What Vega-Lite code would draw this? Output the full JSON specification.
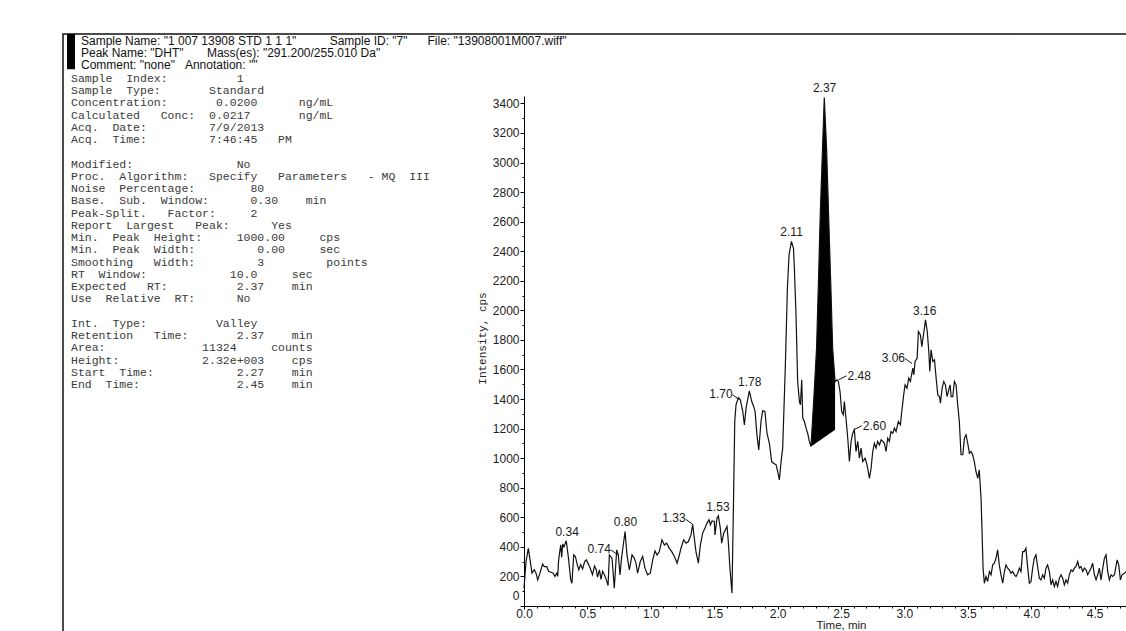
{
  "$schema": "https://vega.github.io/schema/vega-lite/v6.json",
  "background": "white",
  "padding": {"left": 62, "top": 33, "right": 0, "bottom": 0},
  "config": {"view": {"stroke": null}, "axis": {"grid": false}},
  "datasets": {
    "header": [
      {"row": -3, "text": "Sample Name: \"1 007 13908 STD 1 1 1\"\u00a0\u00a0\u00a0\u00a0\u00a0\u00a0\u00a0\u00a0\u00a0\u00a0Sample ID: \"7\"\u00a0\u00a0\u00a0\u00a0\u00a0\u00a0File: \"13908001M007.wiff\""},
      {"row": -2, "text": "Peak Name: \"DHT\"\u00a0\u00a0\u00a0\u00a0\u00a0\u00a0\u00a0Mass(es): \"291.200/255.010 Da\""},
      {"row": -1, "text": "Comment: \"none\"\u00a0\u00a0\u00a0Annotation: \"\""}
    ],
    "params": [
      {"row": 0, "text": "Sample\u00a0\u00a0Index:\u00a0\u00a0\u00a0\u00a0\u00a0\u00a0\u00a0\u00a0\u00a0\u00a01"},
      {"row": 1, "text": "Sample\u00a0\u00a0Type:\u00a0\u00a0\u00a0\u00a0\u00a0\u00a0\u00a0Standard"},
      {"row": 2, "text": "Concentration:\u00a0\u00a0\u00a0\u00a0\u00a0\u00a0\u00a00.0200\u00a0\u00a0\u00a0\u00a0\u00a0\u00a0ng/mL"},
      {"row": 3, "text": "Calculated\u00a0\u00a0\u00a0Conc:\u00a0\u00a00.0217\u00a0\u00a0\u00a0\u00a0\u00a0\u00a0\u00a0ng/mL"},
      {"row": 4, "text": "Acq.\u00a0\u00a0Date:\u00a0\u00a0\u00a0\u00a0\u00a0\u00a0\u00a0\u00a0\u00a07/9/2013"},
      {"row": 5, "text": "Acq.\u00a0\u00a0Time:\u00a0\u00a0\u00a0\u00a0\u00a0\u00a0\u00a0\u00a0\u00a07:46:45\u00a0\u00a0\u00a0PM"},
      {"row": 7, "text": "Modified:\u00a0\u00a0\u00a0\u00a0\u00a0\u00a0\u00a0\u00a0\u00a0\u00a0\u00a0\u00a0\u00a0\u00a0\u00a0No"},
      {"row": 8, "text": "Proc.\u00a0\u00a0Algorithm:\u00a0\u00a0\u00a0Specify\u00a0\u00a0\u00a0Parameters\u00a0\u00a0\u00a0-\u00a0MQ\u00a0\u00a0III"},
      {"row": 9, "text": "Noise\u00a0\u00a0Percentage:\u00a0\u00a0\u00a0\u00a0\u00a0\u00a0\u00a0\u00a080"},
      {"row": 10, "text": "Base.\u00a0\u00a0Sub.\u00a0\u00a0Window:\u00a0\u00a0\u00a0\u00a0\u00a0\u00a00.30\u00a0\u00a0\u00a0\u00a0min"},
      {"row": 11, "text": "Peak-Split.\u00a0\u00a0\u00a0Factor:\u00a0\u00a0\u00a0\u00a0\u00a02"},
      {"row": 12, "text": "Report\u00a0\u00a0Largest\u00a0\u00a0\u00a0Peak:\u00a0\u00a0\u00a0\u00a0\u00a0\u00a0Yes"},
      {"row": 13, "text": "Min.\u00a0\u00a0Peak\u00a0\u00a0Height:\u00a0\u00a0\u00a0\u00a0\u00a01000.00\u00a0\u00a0\u00a0\u00a0\u00a0cps"},
      {"row": 14, "text": "Min.\u00a0\u00a0Peak\u00a0\u00a0Width:\u00a0\u00a0\u00a0\u00a0\u00a0\u00a0\u00a0\u00a0\u00a00.00\u00a0\u00a0\u00a0\u00a0\u00a0sec"},
      {"row": 15, "text": "Smoothing\u00a0\u00a0\u00a0Width:\u00a0\u00a0\u00a0\u00a0\u00a0\u00a0\u00a0\u00a0\u00a03\u00a0\u00a0\u00a0\u00a0\u00a0\u00a0\u00a0\u00a0\u00a0points"},
      {"row": 16, "text": "RT\u00a0\u00a0Window:\u00a0\u00a0\u00a0\u00a0\u00a0\u00a0\u00a0\u00a0\u00a0\u00a0\u00a0\u00a010.0\u00a0\u00a0\u00a0\u00a0\u00a0sec"},
      {"row": 17, "text": "Expected\u00a0\u00a0\u00a0RT:\u00a0\u00a0\u00a0\u00a0\u00a0\u00a0\u00a0\u00a0\u00a0\u00a02.37\u00a0\u00a0\u00a0\u00a0min"},
      {"row": 18, "text": "Use\u00a0\u00a0Relative\u00a0\u00a0RT:\u00a0\u00a0\u00a0\u00a0\u00a0\u00a0No"},
      {"row": 20, "text": "Int.\u00a0\u00a0Type:\u00a0\u00a0\u00a0\u00a0\u00a0\u00a0\u00a0\u00a0\u00a0\u00a0Valley"},
      {"row": 21, "text": "Retention\u00a0\u00a0\u00a0Time:\u00a0\u00a0\u00a0\u00a0\u00a0\u00a0\u00a02.37\u00a0\u00a0\u00a0\u00a0min"},
      {"row": 22, "text": "Area:\u00a0\u00a0\u00a0\u00a0\u00a0\u00a0\u00a0\u00a0\u00a0\u00a0\u00a0\u00a0\u00a0\u00a011324\u00a0\u00a0\u00a0\u00a0\u00a0counts"},
      {"row": 23, "text": "Height:\u00a0\u00a0\u00a0\u00a0\u00a0\u00a0\u00a0\u00a0\u00a0\u00a0\u00a0\u00a02.32e+003\u00a0\u00a0\u00a0\u00a0cps"},
      {"row": 24, "text": "Start\u00a0\u00a0Time:\u00a0\u00a0\u00a0\u00a0\u00a0\u00a0\u00a0\u00a0\u00a0\u00a0\u00a0\u00a02.27\u00a0\u00a0\u00a0\u00a0min"},
      {"row": 25, "text": "End\u00a0\u00a0Time:\u00a0\u00a0\u00a0\u00a0\u00a0\u00a0\u00a0\u00a0\u00a0\u00a0\u00a0\u00a0\u00a0\u00a02.45\u00a0\u00a0\u00a0\u00a0min"}
    ],
    "trace": [
      {"t":0,"i":120},{"t":0.016,"i":300},{"t":0.034,"i":390},{"t":0.05,"i":300},{"t":0.063,"i":222},{"t":0.081,"i":245},{"t":0.095,"i":222},{"t":0.108,"i":177},{"t":0.126,"i":222},{"t":0.147,"i":283},{"t":0.16,"i":267},{"t":0.179,"i":267},{"t":0.195,"i":233},{"t":0.213,"i":228},{"t":0.231,"i":222},{"t":0.244,"i":200},{"t":0.258,"i":222},{"t":0.266,"i":200},{"t":0.272,"i":300},{"t":0.28,"i":357},{"t":0.29,"i":413},{"t":0.297,"i":330},{"t":0.305,"i":420},{"t":0.315,"i":400},{"t":0.333,"i":441},{"t":0.35,"i":330},{"t":0.368,"i":180},{"t":0.378,"i":154},{"t":0.392,"i":346},{"t":0.405,"i":335},{"t":0.42,"i":280},{"t":0.432,"i":245},{"t":0.447,"i":280},{"t":0.462,"i":250},{"t":0.478,"i":300},{"t":0.492,"i":312},{"t":0.507,"i":285},{"t":0.522,"i":255},{"t":0.54,"i":212},{"t":0.556,"i":270},{"t":0.57,"i":245},{"t":0.58,"i":195},{"t":0.595,"i":245},{"t":0.607,"i":180},{"t":0.62,"i":235},{"t":0.635,"i":210},{"t":0.65,"i":175},{"t":0.663,"i":139},{"t":0.673,"i":346},{"t":0.694,"i":323},{"t":0.712,"i":121},{"t":0.731,"i":380},{"t":0.744,"i":346},{"t":0.757,"i":210},{"t":0.77,"i":330},{"t":0.797,"i":504},{"t":0.812,"i":346},{"t":0.831,"i":245},{"t":0.852,"i":346},{"t":0.87,"i":323},{"t":0.883,"i":290},{"t":0.896,"i":222},{"t":0.917,"i":301},{"t":0.936,"i":335},{"t":0.954,"i":256},{"t":0.975,"i":211},{"t":0.996,"i":222},{"t":1.015,"i":312},{"t":1.033,"i":373},{"t":1.049,"i":345},{"t":1.067,"i":368},{"t":1.088,"i":448},{"t":1.107,"i":413},{"t":1.125,"i":425},{"t":1.146,"i":390},{"t":1.165,"i":368},{"t":1.186,"i":335},{"t":1.207,"i":290},{"t":1.225,"i":345},{"t":1.238,"i":391},{"t":1.259,"i":448},{"t":1.278,"i":425},{"t":1.296,"i":436},{"t":1.317,"i":481},{"t":1.33,"i":553},{"t":1.343,"i":458},{"t":1.356,"i":368},{"t":1.375,"i":290},{"t":1.391,"i":413},{"t":1.409,"i":493},{"t":1.427,"i":527},{"t":1.443,"i":561},{"t":1.459,"i":583},{"t":1.47,"i":549},{"t":1.483,"i":576},{"t":1.501,"i":572},{"t":1.506,"i":481},{"t":1.522,"i":594},{"t":1.533,"i":610},{"t":1.548,"i":526},{"t":1.559,"i":425},{"t":1.575,"i":493},{"t":1.588,"i":515},{"t":1.601,"i":538},{"t":1.611,"i":436},{"t":1.624,"i":255},{"t":1.64,"i":87},{"t":1.652,"i":700},{"t":1.662,"i":1250},{"t":1.672,"i":1361},{"t":1.69,"i":1410},{"t":1.706,"i":1395},{"t":1.725,"i":1316},{"t":1.738,"i":1225},{"t":1.751,"i":1338},{"t":1.777,"i":1456},{"t":1.796,"i":1383},{"t":1.811,"i":1350},{"t":1.822,"i":1316},{"t":1.837,"i":1158},{"t":1.851,"i":1056},{"t":1.869,"i":1248},{"t":1.882,"i":1320},{"t":1.9,"i":1316},{"t":1.916,"i":1169},{"t":1.935,"i":1101},{"t":1.953,"i":977},{"t":1.969,"i":966},{"t":1.988,"i":955},{"t":2.0,"i":910},{"t":2.014,"i":853},{"t":2.027,"i":977},{"t":2.04,"i":1068},{"t":2.061,"i":1631},{"t":2.077,"i":2150},{"t":2.09,"i":2375},{"t":2.109,"i":2466},{"t":2.125,"i":2420},{"t":2.132,"i":2285},{"t":2.145,"i":1970},{"t":2.158,"i":1518},{"t":2.172,"i":1383},{"t":2.18,"i":1361},{"t":2.19,"i":1530},{"t":2.198,"i":1271},{"t":2.211,"i":1248},{"t":2.224,"i":1203},{"t":2.237,"i":1169},{"t":2.25,"i":1113},
      {"t":2.263,"i":1079,"base":1079},{"t":2.284,"i":1383,"base":1091},{"t":2.307,"i":1744,"base":1105},{"t":2.322,"i":2195,"base":1114},{"t":2.336,"i":2646,"base":1122},{"t":2.354,"i":3097,"base":1133},{"t":2.368,"i":3440,"base":1141},{"t":2.386,"i":3097,"base":1152},{"t":2.402,"i":2646,"base":1162},{"t":2.42,"i":2150,"base":1172},{"t":2.434,"i":1744,"base":1181},{"t":2.453,"i":1518,"base":1192},
      {"t":2.468,"i":1530},{"t":2.479,"i":1519},{"t":2.492,"i":1451},{"t":2.505,"i":1316},{"t":2.518,"i":1293},{"t":2.526,"i":1383},{"t":2.539,"i":1271},{"t":2.553,"i":1135},{"t":2.566,"i":977},{"t":2.579,"i":1113},{"t":2.592,"i":1169},{"t":2.605,"i":1192},{"t":2.618,"i":1045},{"t":2.632,"i":1113},{"t":2.645,"i":1000},{"t":2.658,"i":1068},{"t":2.671,"i":977},{"t":2.69,"i":1000},{"t":2.705,"i":955},{"t":2.724,"i":864},{"t":2.737,"i":932},{"t":2.75,"i":1045},{"t":2.763,"i":1101},{"t":2.776,"i":1068},{"t":2.789,"i":1113},{"t":2.803,"i":1090},{"t":2.816,"i":1124},{"t":2.83,"i":1113},{"t":2.842,"i":1101},{"t":2.855,"i":1045},{"t":2.868,"i":1135},{"t":2.881,"i":1113},{"t":2.894,"i":1180},{"t":2.908,"i":1169},{"t":2.921,"i":1203},{"t":2.934,"i":1180},{"t":2.952,"i":1248},{"t":2.968,"i":1226},{"t":2.979,"i":1316},{"t":2.994,"i":1428},{"t":3.005,"i":1496},{"t":3.02,"i":1473},{"t":3.034,"i":1541},{"t":3.047,"i":1519},{"t":3.066,"i":1609},{"t":3.074,"i":1564},{"t":3.084,"i":1654},{"t":3.1,"i":1676},{"t":3.11,"i":1857},{"t":3.126,"i":1834},{"t":3.137,"i":1755},{"t":3.152,"i":1845},{"t":3.166,"i":1936},{"t":3.18,"i":1857},{"t":3.192,"i":1722},{"t":3.2,"i":1586},{"t":3.21,"i":1733},{"t":3.224,"i":1654},{"t":3.237,"i":1665},{"t":3.25,"i":1541},{"t":3.263,"i":1428},{"t":3.276,"i":1417},{"t":3.284,"i":1372},{"t":3.297,"i":1473},{"t":3.31,"i":1519},{"t":3.323,"i":1496},{"t":3.336,"i":1417},{"t":3.349,"i":1462},{"t":3.36,"i":1496},{"t":3.368,"i":1417},{"t":3.381,"i":1417},{"t":3.394,"i":1519},{"t":3.407,"i":1496},{"t":3.42,"i":1361},{"t":3.433,"i":1248},{"t":3.446,"i":1023},{"t":3.46,"i":1023},{"t":3.473,"i":1135},{"t":3.486,"i":1158},{"t":3.499,"i":1101},{"t":3.512,"i":1034},{"t":3.525,"i":1045},{"t":3.538,"i":1023},{"t":3.551,"i":977},{"t":3.564,"i":910},{"t":3.578,"i":864},{"t":3.59,"i":921},{"t":3.604,"i":729},{"t":3.612,"i":503},{"t":3.62,"i":256},{"t":3.63,"i":154},{"t":3.643,"i":200},{"t":3.656,"i":166},{"t":3.67,"i":233},{"t":3.683,"i":211},{"t":3.696,"i":278},{"t":3.709,"i":289},{"t":3.722,"i":323},{"t":3.735,"i":380},{"t":3.748,"i":278},{"t":3.761,"i":211},{"t":3.775,"i":154},{"t":3.788,"i":233},{"t":3.801,"i":278},{"t":3.814,"i":256},{"t":3.827,"i":244},{"t":3.84,"i":222},{"t":3.853,"i":233},{"t":3.867,"i":211},{"t":3.88,"i":200},{"t":3.893,"i":222},{"t":3.906,"i":256},{"t":3.919,"i":233},{"t":3.932,"i":368},{"t":3.945,"i":368},{"t":3.958,"i":391},{"t":3.972,"i":256},{"t":3.985,"i":154},{"t":3.998,"i":166},{"t":4.011,"i":256},{"t":4.024,"i":323},{"t":4.037,"i":346},{"t":4.05,"i":267},{"t":4.064,"i":188},{"t":4.077,"i":177},{"t":4.09,"i":211},{"t":4.103,"i":188},{"t":4.116,"i":256},{"t":4.129,"i":278},{"t":4.143,"i":233},{"t":4.156,"i":143},{"t":4.169,"i":177},{"t":4.182,"i":132},{"t":4.195,"i":166},{"t":4.208,"i":132},{"t":4.222,"i":188},{"t":4.235,"i":211},{"t":4.248,"i":188},{"t":4.261,"i":143},{"t":4.274,"i":177},{"t":4.287,"i":154},{"t":4.3,"i":211},{"t":4.314,"i":244},{"t":4.327,"i":233},{"t":4.34,"i":256},{"t":4.353,"i":267},{"t":4.366,"i":301},{"t":4.379,"i":256},{"t":4.392,"i":267},{"t":4.406,"i":233},{"t":4.419,"i":256},{"t":4.432,"i":244},{"t":4.445,"i":211},{"t":4.458,"i":233},{"t":4.471,"i":256},{"t":4.484,"i":290},{"t":4.498,"i":211},{"t":4.511,"i":177},{"t":4.524,"i":211},{"t":4.537,"i":256},{"t":4.55,"i":177},{"t":4.564,"i":256},{"t":4.577,"i":323},{"t":4.59,"i":346},{"t":4.603,"i":233},{"t":4.616,"i":177},{"t":4.629,"i":211},{"t":4.642,"i":200},{"t":4.656,"i":211},{"t":4.677,"i":312},{"t":4.69,"i":278},{"t":4.703,"i":177},{"t":4.716,"i":211},{"t":4.735,"i":222},{"t":4.748,"i":233}
    ],
    "labelsAbove": [
      {"rt": 0.34, "height": 441}, {"rt": 0.80, "height": 504}, {"rt": 1.53, "height": 610},
      {"rt": 1.78, "height": 1456}, {"rt": 2.11, "height": 2466}, {"rt": 2.37, "height": 3440}, {"rt": 3.16, "height": 1936}
    ],
    "labelsLeft": [
      {"rt": 0.74, "height": 346}, {"rt": 1.33, "height": 553}, {"rt": 1.70, "height": 1395}, {"rt": 3.06, "height": 1640}
    ],
    "labelsRight": [
      {"rt": 2.48, "height": 1530}, {"rt": 2.60, "height": 1192}
    ]
  },
  "hconcat": [
    {
      "width": 461,
      "height": 597,
      "view": {"stroke": "#111", "strokeWidth": 1.5, "strokeDash": [461, 1058, 597]},
      "layer": [
        {
          "data": {"values": [{"part": "header"}]},
          "mark": {"type": "rect", "color": "#000"},
          "encoding": {
            "x": {"value": 4},
            "x2": {"value": 12},
            "y": {"datum": -3.676, "type": "quantitative", "scale": {"domain": [-3.676, 45.098], "reverse": true, "nice": false, "zero": false}, "axis": null},
            "y2": {"datum": -0.8}
          }
        },
        {
          "data": {"name": "header"},
          "mark": {"type": "text", "align": "left", "baseline": "middle", "font": "Liberation Sans", "fontSize": 12, "color": "#111", "dy": -1.5},
          "encoding": {
            "x": {"value": 18},
            "y": {"field": "row", "type": "quantitative", "scale": {"domain": [-3.676, 45.098], "reverse": true, "nice": false, "zero": false}, "axis": null},
            "text": {"field": "text"}
          }
        },
        {
          "data": {"name": "params"},
          "mark": {"type": "text", "align": "left", "baseline": "middle", "font": "Liberation Mono", "fontSize": 11.5, "color": "#3a3a3a"},
          "encoding": {
            "x": {"value": 8},
            "y": {"field": "row", "type": "quantitative", "scale": {"domain": [-3.676, 45.098], "reverse": true, "nice": false, "zero": false}, "axis": null},
            "text": {"field": "text"}
          }
        }
      ]
    },
    {
      "spacing": 0,
      "bounds": "flush",
      "vconcat": [
        {
          "width": 603,
          "height": 62,
          "view": {"stroke": "#111", "strokeWidth": 1.5, "strokeDash": [603, 727]},
          "data": {"values": []},
          "mark": "point"
        },
        {
          "width": 603,
          "height": 510,
          "data": {"name": "trace"},
          "layer": [
            {
              "transform": [{"filter": "isValid(datum.base)"}],
              "mark": {"type": "area", "color": "#000", "opacity": 1},
              "encoding": {
                "x": {"field": "t", "type": "quantitative", "scale": {"domain": [0, 4.755], "nice": false, "zero": false},
                      "axis": {"orient": "bottom", "values": [0.1,0.2,0.3,0.4,0.6,0.7,0.8,0.9,1.1,1.2,1.3,1.4,1.6,1.7,1.8,1.9,2.1,2.2,2.3,2.4,2.6,2.7,2.8,2.9,3.1,3.2,3.3,3.4,3.6,3.7,3.8,3.9,4.1,4.2,4.3,4.4,4.6,4.7], "labels": false, "domain": false, "tickSize": 2, "tickColor": "#000", "title": null}},
                "y": {"field": "i", "type": "quantitative", "scale": {"domain": [0, 3450], "nice": false},
                      "axis": {"orient": "left", "values": [100,300,500,700,900,1100,1300,1500,1700,1900,2100,2300,2500,2700,2900,3100,3300], "labels": false, "domain": false, "tickSize": 2, "tickColor": "#000", "title": null}},
                "y2": {"field": "base"}
              }
            },
            {
              "mark": {"type": "line", "color": "#111", "strokeWidth": 1.2},
              "encoding": {
                "x": {"field": "t", "type": "quantitative", "scale": {"domain": [0, 4.755], "nice": false, "zero": false},
                      "axis": {"orient": "bottom", "values": [0,0.5,1,1.5,2,2.5,3,3.5,4,4.5], "format": ".1f", "labelFlush": false, "labelFont": "Liberation Sans", "labelFontSize": 12, "labelColor": "#222", "labelPadding": -1, "tickSize": 3, "tickColor": "#000", "domainColor": "#000", "title": "Time, min", "titleFont": "Liberation Sans", "titleFontSize": 11.5, "titleFontWeight": "normal", "titleColor": "#222", "titlePadding": 0, "titleX": 317}},
                "y": {"field": "i", "type": "quantitative", "scale": {"domain": [0, 3450], "nice": false},
                      "axis": {"orient": "left", "values": [0,200,400,600,800,1000,1200,1400,1600,1800,2000,2200,2400,2600,2800,3000,3200,3400], "format": "d", "labelFlush": true, "labelFlushOffset": -4, "labelFont": "Liberation Sans", "labelFontSize": 12, "labelColor": "#222", "labelPadding": 1, "tickSize": 4, "tickColor": "#000", "domainColor": "#000", "title": "Intensity, cps", "titleFont": "Liberation Mono", "titleFontSize": 11, "titleFontWeight": "normal", "titleColor": "#222", "titlePadding": 5, "titleY": 242}}
              }
            },
            {
              "data": {"name": "labelsAbove"},
              "mark": {"type": "text", "align": "center", "baseline": "alphabetic", "dy": -5, "font": "Liberation Sans", "fontSize": 12, "color": "#1a1a1a"},
              "encoding": {
                "x": {"field": "rt", "type": "quantitative", "axis": null},
                "y": {"field": "height", "type": "quantitative", "axis": null},
                "text": {"field": "rt", "type": "quantitative", "format": ".2f"}
              }
            },
            {
              "data": {"name": "labelsLeft"},
              "mark": {"type": "rule", "color": "#111", "strokeWidth": 1, "x2Offset": -7, "y2Offset": -5},
              "encoding": {
                "x": {"field": "rt", "type": "quantitative", "axis": null},
                "y": {"field": "height", "type": "quantitative", "axis": null},
                "x2": {"field": "rt"},
                "y2": {"field": "height"}
              }
            },
            {
              "data": {"name": "labelsLeft"},
              "mark": {"type": "text", "align": "right", "baseline": "middle", "dx": -7, "dy": -6, "font": "Liberation Sans", "fontSize": 12, "color": "#1a1a1a"},
              "encoding": {
                "x": {"field": "rt", "type": "quantitative", "axis": null},
                "y": {"field": "height", "type": "quantitative", "axis": null},
                "text": {"field": "rt", "type": "quantitative", "format": ".2f"}
              }
            },
            {
              "data": {"name": "labelsRight"},
              "mark": {"type": "rule", "color": "#111", "strokeWidth": 1, "x2Offset": 8, "y2Offset": -4},
              "encoding": {
                "x": {"field": "rt", "type": "quantitative", "axis": null},
                "y": {"field": "height", "type": "quantitative", "axis": null},
                "x2": {"field": "rt"},
                "y2": {"field": "height"}
              }
            },
            {
              "data": {"name": "labelsRight"},
              "mark": {"type": "text", "align": "left", "baseline": "middle", "dx": 9, "dy": -4, "font": "Liberation Sans", "fontSize": 12, "color": "#1a1a1a"},
              "encoding": {
                "x": {"field": "rt", "type": "quantitative", "axis": null},
                "y": {"field": "height", "type": "quantitative", "axis": null},
                "text": {"field": "rt", "type": "quantitative", "format": ".2f"}
              }
            }
          ],
          "resolve": {"axis": {"x": "independent", "y": "independent"}}
        }
      ]
    }
  ],
  "spacing": 0,
  "bounds": "flush"
}
